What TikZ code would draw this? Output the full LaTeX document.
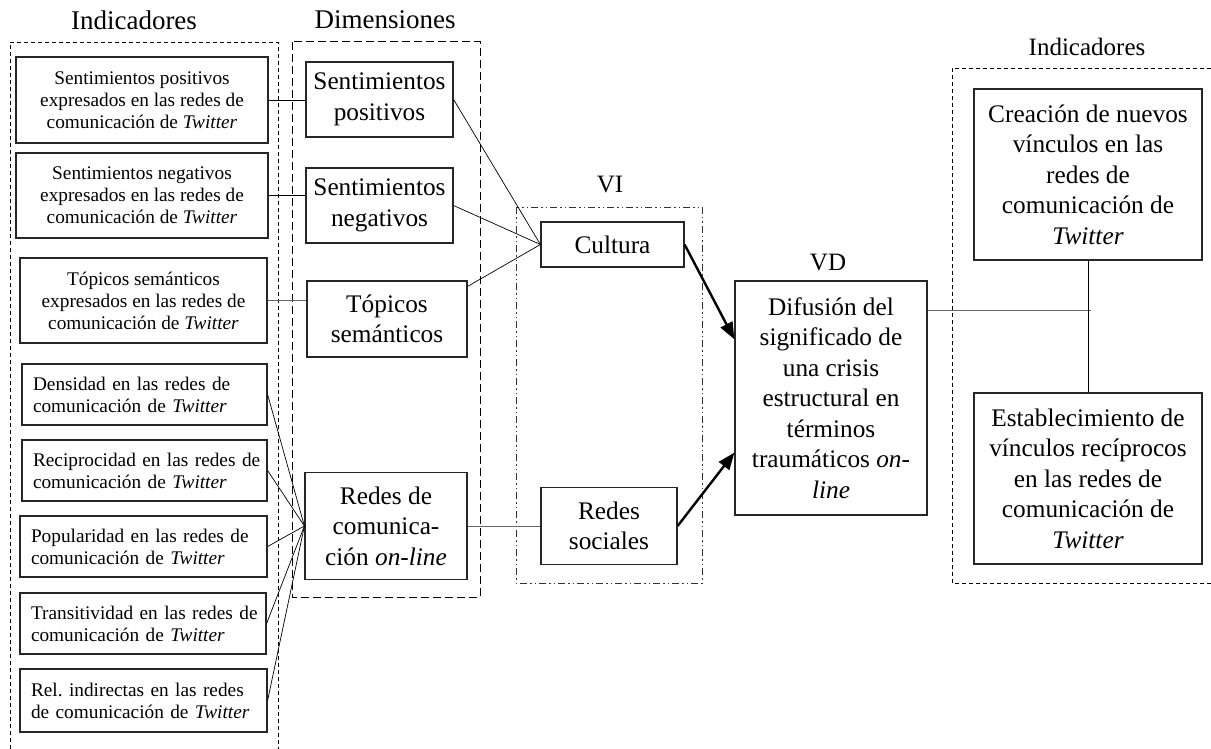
\documentclass[tikz,border=0pt]{standalone}
\usepackage{fontspec}
\setmainfont{Liberation Serif}
\usetikzlibrary{arrows.meta,calc}
\frenchspacing
\begin{document}
\begin{tikzpicture}[x=1pt,y=-1pt,
  box/.style={draw=black!85, line width=1.2pt, inner sep=0pt, align=center},
  small/.style={font=\fontsize{19.3}{22}\selectfont},
  large/.style={font=\fontsize{25.3}{30.5}\selectfont},
  hdr/.style={font=\fontsize{27}{30}\selectfont, inner sep=0pt},
  hdrr/.style={font=\fontsize{25}{30}\selectfont, inner sep=0pt},
  lbox/.style={box, small, align=left, text width=#1, inner xsep=11pt},
  thin/.style={line width=0.7pt, black},
  thingray/.style={line width=0.8pt, black!60},
  arrowline/.style={line width=2.4pt, -{Triangle[length=17pt,width=13pt]}},
  shortdash/.style={line width=0.9pt, dash pattern=on 4pt off 3pt},
  longdash/.style={line width=1pt, dash pattern=on 8pt off 4pt},
  dashdotdot/.style={line width=0.9pt, black!80, dash pattern=on 7pt off 3pt on 1.5pt off 3pt on 1.5pt off 3pt}
]
\useasboundingbox (0,0) rectangle (1211,749);

% group frames
\draw[shortdash] (10,749) -- (10,42) -- (278,42) -- (278,749);
\draw[longdash] (292,42) rectangle (480,597);
\draw[dashdotdot] (516,207) rectangle (702,583);
\draw[shortdash] (1211,68) -- (952,68) -- (952,583) -- (1211,583);

% headers
\node[hdr] (h1) at (134,20) {Indicadores};
\node[hdr] (h2) at (385,20) {Dimensiones};
\node[hdrr] (h3) at (610,185) {VI};
\node[hdrr] (h4) at (828,263) {VD};
\node[hdrr] (h5) at (1087,47) {Indicadores};

% indicator boxes (left)
\node[box,small,minimum width=252pt,minimum height=86pt] (i1) at (142,100)
  {Sentimientos positivos\\expresados en las redes de\\comunicación de \textit{Twitter}};
\node[box,small,minimum width=252pt,minimum height=85pt] (i2) at (142,195.5)
  {Sentimientos negativos\\expresados en las redes de\\comunicación de \textit{Twitter}};
\node[box,small,minimum width=247pt,minimum height=85pt] (i3) at (143.5,300.5)
  {Tópicos semánticos\\expresados en las redes de\\comunicación de \textit{Twitter}};
\node[lbox=223pt,minimum height=61pt] (i4) at (144.5,394.5)
  {\mbox{Densidad en las redes de}\\\mbox{comunicación de \textit{Twitter}}};
\node[lbox=223pt,minimum height=61pt] (i5) at (144.5,470.5)
  {\mbox{Reciprocidad en las redes de}\\\mbox{comunicación de \textit{Twitter}}};
\node[lbox=225pt,minimum height=61pt] (i6) at (143.5,546.5)
  {\mbox{Popularidad en las redes de}\\\mbox{comunicación de \textit{Twitter}}};
\node[lbox=224pt,minimum height=61pt] (i7) at (143,623.5)
  {\mbox{Transitividad en las redes de}\\\mbox{comunicación de \textit{Twitter}}};
\node[lbox=225pt,minimum height=63pt] (i8) at (143.5,700.5)
  {\mbox{Rel. indirectas en las redes}\\\mbox{de comunicación de \textit{Twitter}}};

% dimension boxes
\node[box,large,minimum width=147pt,minimum height=75pt] (sp) at (379.5,99.5)
  {Sentimientos\\positivos};
\node[box,large,minimum width=147pt,minimum height=75pt] (sn) at (379.5,205.5)
  {Sentimientos\\negativos};
\node[box,large,minimum width=160pt,minimum height=76pt] (tp) at (387,319)
  {Tópicos\\semánticos};
\node[box,large,minimum width=162pt,minimum height=107pt] (rc) at (386,526)
  {Redes de\\comunica-\\ción \textit{on-line}};

% VI boxes
\node[box,large,minimum width=143pt,minimum height=45pt] (cu) at (612.5,244.5) {Cultura};
\node[box,large,minimum width=136pt,minimum height=77pt] (rs) at (609,526) {Redes\\sociales};

% VD box
\node[box,large,minimum width=192pt,minimum height=234pt] (vd) at (831,398)
  {Difusión del\\significado de\\una crisis\\estructural en\\términos\\traumáticos \textit{on-}\\\textit{line}};

% right indicators
\node[box,large,minimum width=228pt,minimum height=171pt] (cr) at (1088,174.5)
  {Creación de nuevos\\vínculos en las\\redes de\\comunicación de\\\textit{Twitter}};
\node[box,large,minimum width=228pt,minimum height=171pt] (es) at (1088,478.5)
  {Establecimiento de\\vínculos recíprocos\\en las redes de\\comunicación de\\\textit{Twitter}};

% connectors: indicators -> dimensions
\draw[thin] (i1.east) -- (i1.east -| sp.west);
\draw[thin] (i2.east) -- (i2.east -| sn.west);
\draw[thingray] (i3.east) -- (i3.east -| tp.west);
\foreach \n in {i4,i5,i6,i7,i8} \draw[thin] (\n.east) -- (rc.west);

% dimensions -> VI
\draw[thin] (sp.east) -- (cu.west);
\draw[thin] (sn.east) -- (cu.west);
\draw[thin] ([yshift=-6pt]tp.north east) -- (cu.west);
\draw[thingray] (rc.east) -- (rs.west);

% VI -> VD
\draw[arrowline] (cu.east) -- ([yshift=-59pt]vd.north west);
\draw[arrowline] (rs.east) -- ([yshift=63pt]vd.south west);

% VD -> right indicators
\coordinate (vdend) at (1091,310);
\draw[thingray] (vd.north east |- vdend) -- (vdend);
\draw[thin] (cr.south) -- (es.north);
\end{tikzpicture}
\end{document}
